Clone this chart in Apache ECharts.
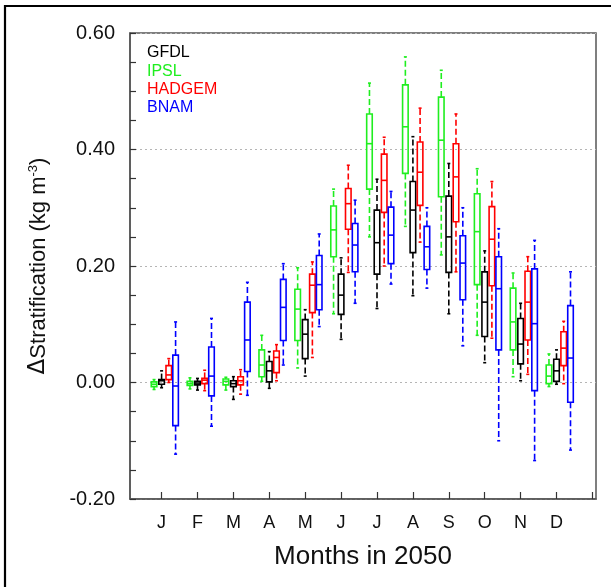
<!DOCTYPE html>
<html>
<head>
<meta charset="utf-8">
<script src="https://cdn.jsdelivr.net/npm/echarts@6/dist/echarts.min.js"></script>
<style>
  html, body { margin: 0; padding: 0; background: #fff; }
  #chart { width: 611px; height: 587px; }
</style>
</head>
<body>
<div id="chart"></div>
<script>
// month letters on the x axis
var months = ["J", "F", "M", "A", "M", "J", "J", "A", "S", "O", "N", "D"];

// each row: [min, q1, median, q3, max] for one month
var gfdl = [
  [-0.009, -0.003, 0.003, 0.005, 0.020],
  [-0.013, -0.004, -0.001, 0.002, 0.007],
  [-0.029, -0.007, -0.002, 0.003, 0.010],
  [-0.010, 0.001, 0.020, 0.036, 0.053],
  [0.011, 0.041, 0.083, 0.108, 0.125],
  [0.074, 0.117, 0.150, 0.186, 0.214],
  [0.127, 0.186, 0.240, 0.296, 0.349],
  [0.149, 0.223, 0.296, 0.345, 0.422],
  [0.118, 0.189, 0.250, 0.320, 0.376],
  [0.034, 0.079, 0.138, 0.190, 0.226],
  [0.003, 0.032, 0.066, 0.110, 0.136],
  [-0.003, 0.002, 0.020, 0.040, 0.056]
];
var ipsl = [
  [-0.012, -0.007, -0.003, 0.001, 0.005],
  [-0.011, -0.005, -0.002, 0.002, 0.008],
  [-0.013, -0.004, 0.002, 0.006, 0.009],
  [0.002, 0.010, 0.030, 0.056, 0.081],
  [0.025, 0.072, 0.126, 0.160, 0.197],
  [0.118, 0.216, 0.262, 0.303, 0.332],
  [0.250, 0.332, 0.410, 0.461, 0.514],
  [0.268, 0.359, 0.439, 0.511, 0.559],
  [0.219, 0.319, 0.416, 0.490, 0.536],
  [0.081, 0.168, 0.259, 0.324, 0.367],
  [0.010, 0.056, 0.104, 0.162, 0.188],
  [-0.007, -0.002, 0.011, 0.030, 0.049]
];
var hadgem = [
  [0.000, 0.005, 0.013, 0.029, 0.041],
  [-0.014, -0.002, 0.004, 0.007, 0.021],
  [-0.020, -0.004, 0.003, 0.010, 0.022],
  [0.003, 0.017, 0.043, 0.054, 0.065],
  [0.043, 0.120, 0.167, 0.186, 0.207],
  [0.189, 0.263, 0.307, 0.333, 0.373],
  [0.200, 0.292, 0.347, 0.392, 0.421],
  [0.241, 0.304, 0.361, 0.413, 0.471],
  [0.190, 0.276, 0.353, 0.410, 0.461],
  [0.076, 0.166, 0.246, 0.302, 0.345],
  [0.014, 0.073, 0.138, 0.191, 0.216],
  [-0.002, 0.029, 0.059, 0.087, 0.105]
];
var bnam = [
  [-0.123, -0.074, -0.006, 0.047, 0.104],
  [-0.075, -0.023, 0.011, 0.061, 0.110],
  [-0.022, 0.019, 0.073, 0.138, 0.172],
  [0.030, 0.072, 0.129, 0.177, 0.204],
  [0.096, 0.125, 0.168, 0.218, 0.255],
  [0.136, 0.190, 0.236, 0.273, 0.313],
  [0.169, 0.204, 0.253, 0.301, 0.328],
  [0.162, 0.194, 0.233, 0.268, 0.300],
  [0.063, 0.142, 0.205, 0.252, 0.300],
  [-0.100, 0.056, 0.161, 0.216, 0.264],
  [-0.134, -0.014, 0.101, 0.195, 0.244],
  [-0.116, -0.034, 0.042, 0.132, 0.190]
];

var models = [
  { name: "IPSL", color: "#1fee1f", offset: -0.21, data: ipsl },
  { name: "GFDL", color: "#000000", offset: 0.0, data: gfdl },
  { name: "HADGEM", color: "#ff0000", offset: 0.2, data: hadgem },
  { name: "BNAM", color: "#0000ff", offset: 0.39, data: bnam }
];

var font = "Liberation Sans, Arial, Helvetica, sans-serif";
var chart = echarts.init(document.getElementById("chart"));

function boxRender(color) {
  return function (params, api) {
    var x = api.value(0);
    var lo = api.coord([x, api.value(1)]);
    var q1 = api.coord([x, api.value(2)]);
    var med = api.coord([x, api.value(3)]);
    var q3 = api.coord([x, api.value(4)]);
    var hi = api.coord([x, api.value(5)]);
    var w = api.size([0.155, 0])[0];
    var cx = q1[0];
    var line = { stroke: color, lineWidth: 1.6, fill: null };
    var dash = { stroke: color, lineWidth: 1.6, lineDash: [6, 3] };
    return {
      type: "group",
      children: [
        { type: "line", shape: { x1: cx, y1: q3[1], x2: cx, y2: hi[1] }, style: dash },
        { type: "line", shape: { x1: cx, y1: q1[1], x2: cx, y2: lo[1] }, style: dash },
        { type: "line", shape: { x1: cx - 1.5, y1: hi[1], x2: cx + 1.5, y2: hi[1] }, style: line },
        { type: "line", shape: { x1: cx - 1.5, y1: lo[1], x2: cx + 1.5, y2: lo[1] }, style: line },
        { type: "rect", shape: { x: cx - w / 2, y: q3[1], width: w, height: q1[1] - q3[1] }, style: line },
        { type: "line", shape: { x1: cx - w / 2, y1: med[1], x2: cx + w / 2, y2: med[1] }, style: line }
      ]
    };
  };
}

var series = models.map(function (m) {
  return {
    name: m.name,
    type: "custom",
    renderItem: boxRender(m.color),
    encode: { x: 0, y: [1, 2, 3, 4, 5] },
    data: m.data.map(function (d, i) {
      return [i + 1 + m.offset].concat(d);
    }),
    z: 3
  };
});

var ticks = [1, 2, 3, 4, 5, 6, 7, 8, 9, 10, 11, 12, 13];

var option = {
  animation: false,
  backgroundColor: "#fff",
  grid: {
    left: 130, top: 33, width: 466, height: 466,
    show: true, borderColor: "#555", borderWidth: 1.5, backgroundColor: "transparent"
  },
  xAxis: {
    type: "value",
    min: 0.12,
    max: 13.1,
    name: "Months in 2050",
    nameLocation: "middle",
    nameGap: 45,
    nameTextStyle: { fontFamily: font, fontSize: 26, color: "#111" },
    axisLine: { onZero: false, lineStyle: { color: "#555", width: 1.5 } },
    axisTick: { inside: true, length: 7, customValues: ticks, lineStyle: { color: "#333", width: 1.2 } },
    axisLabel: {
      customValues: ticks.slice(0, 12),
      formatter: function (v) { return months[Math.round(v) - 1] || ""; },
      fontFamily: font, fontSize: 18, color: "#111", margin: 15
    },
    splitLine: { show: false }
  },
  yAxis: {
    type: "value",
    min: -0.2,
    max: 0.6,
    interval: 0.2,
    name: "{d|\u0394}{a|Stratification (kg m}{s|-3}{a|)}",
    nameLocation: "middle",
    nameGap: 80,
    nameTextStyle: {
      fontFamily: font, fontSize: 22, color: "#111",
      rich: {
        d: { fontFamily: "DejaVu Sans", fontSize: 23, color: "#111" },
        a: { fontFamily: font, fontSize: 22, color: "#111" },
        s: { fontFamily: font, fontSize: 13, color: "#111", verticalAlign: "top" }
      }
    },
    axisLine: { show: true, onZero: false, lineStyle: { color: "#555", width: 1.5 } },
    axisTick: { inside: true, length: 6, lineStyle: { color: "#333", width: 1.2 } },
    minorTick: { show: true, splitNumber: 4, length: 6, lineStyle: { color: "#333", width: 1.2 } },
    axisLabel: {
      formatter: function (v) { return v.toFixed(2); },
      fontFamily: font, fontSize: 20, color: "#111", margin: 15
    },
    splitLine: { show: true, lineStyle: { color: "#b5b5b5", width: 1.2, type: [2, 3] } }
  },
  graphic: [
    { type: "rect", shape: { x: 5, y: 6, width: 800, height: 800 }, style: { fill: null, stroke: "#000", lineWidth: 2.2 }, silent: true },
    { type: "text", left: 147, top: 45, style: { text: "GFDL", fill: "#000", font: "16px " + font } },
    { type: "text", left: 147, top: 64, style: { text: "IPSL", fill: "#1fee1f", font: "16px " + font } },
    { type: "text", left: 147, top: 82, style: { text: "HADGEM", fill: "#ff0000", font: "16px " + font } },
    { type: "text", left: 147, top: 100, style: { text: "BNAM", fill: "#0000ff", font: "16px " + font } }
  ],
  series: series
};

chart.setOption(option);
</script>
</body>
</html>
